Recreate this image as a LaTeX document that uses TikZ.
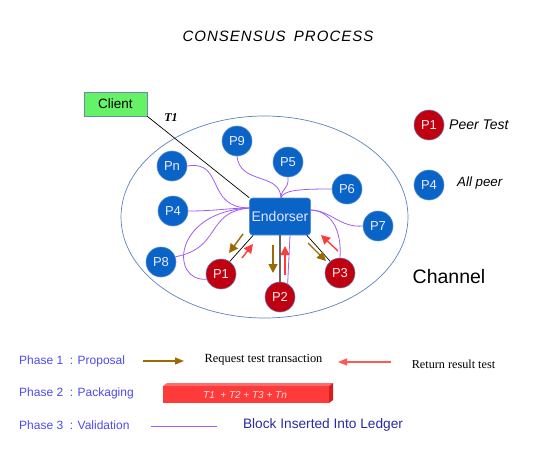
\documentclass[tikz,border=0pt]{standalone}
\usepackage{fontspec}
\setmainfont{Liberation Sans}
\newfontfamily\serifff{Liberation Serif}
\usetikzlibrary{arrows.meta,calc}
\definecolor{peerblue}{HTML}{0A64C8}
\definecolor{peerblueb}{HTML}{5A8FD0}
\definecolor{peerred}{HTML}{C00010}
\definecolor{peerredb}{HTML}{6A7FB0}
\definecolor{clientg}{HTML}{66F266}
\definecolor{clientb}{HTML}{6A8AB0}
\definecolor{chanline}{HTML}{5B84B8}
\definecolor{linkp}{HTML}{A25CF5}
\definecolor{brownarr}{HTML}{9C6A00}
\definecolor{redarr}{HTML}{FF3B3B}
\definecolor{phasec}{HTML}{4B4BF0}
\definecolor{ledgerc}{HTML}{2A2AA0}
\definecolor{barfront}{HTML}{FF3A3A}
\definecolor{bartop}{HTML}{FF6A6A}
\definecolor{barside}{HTML}{D02020}
\tikzset{
  bpeer/.style={circle,fill=peerblue,draw=peerblueb,line width=0.6pt,minimum size=30pt,inner sep=0pt,text=white!92!blue,font=\fontsize{13}{13}\selectfont},
  rpeer/.style={circle,fill=peerred,draw=peerredb,line width=0.6pt,minimum size=30pt,inner sep=0pt,text=white!92!red,font=\fontsize{13}{13}\selectfont},
  plink/.style={draw=linkp,line width=0.8pt},
  brarrow/.style={draw=brownarr,line width=1.4pt,-{Triangle[length=9pt,width=9pt]}},
  rdarrow/.style={draw=redarr,line width=1.4pt,-{Triangle[length=9pt,width=9pt]}},
  phasetext/.style={anchor=west,text=phasec,font=\fontsize{12}{12}\selectfont},
}
\begin{document}
\begin{tikzpicture}[x=1pt,y=-1pt]
\useasboundingbox (0,0) rectangle (546,471);
% title
\node (title) at (278,36) {\fontsize{15}{15}\selectfont\itshape C\kern1pt O\kern1pt N\kern1pt S\kern1pt E\kern1pt N\kern1pt S\kern1pt U\kern1pt S\ \ P\kern1pt R\kern1pt O\kern1pt C\kern1pt E\kern1pt S\kern1pt S};
% channel ellipse
\draw[chanline,line width=0.7pt] (264.5,217) ellipse [x radius=143.5, y radius=101];
\node[font=\fontsize{19.5}{19.5}\selectfont] (chan) at (449,277) {Channel};
% client
\node[draw=clientb,fill=clientg,line width=0.7pt,minimum width=63pt,minimum height=24pt,inner sep=0pt,font=\fontsize{13.5}{13.5}\selectfont] (client) at (115.5,104) {Client};
\node[font=\serifff\bfseries\itshape\fontsize{12}{12}\selectfont] (t1) at (171,118) {T1};
% endorser
\node[rounded corners=3pt,fill=peerblue,draw=peerblueb,line width=0.6pt,minimum width=61pt,minimum height=37pt,inner sep=0pt,text=white!90!blue,font=\fontsize{14}{14}\selectfont] (E) at (280,216.5) {Endorser};
% peers
\node[bpeer] (P9) at (237,141) {P9};
\node[bpeer] (Pn) at (172,166) {Pn};
\node[bpeer] (P5) at (288,162) {P5};
\node[bpeer] (P6) at (347,189) {P6};
\node[bpeer] (P4) at (173,211) {P4};
\node[bpeer] (P7) at (378,226) {P7};
\node[bpeer] (P8) at (161,262) {P8};
\node[rpeer] (P1) at (221,274) {P1};
\node[rpeer] (P2) at (280,297) {P2};
\node[rpeer] (P3) at (340,273) {P3};
% anchor coordinates on endorser
\coordinate (eL) at (249.5,208);
\coordinate (eT) at (281,198);
\coordinate (eR) at (310.5,210);
% purple links
\draw[plink] (Pn.east) .. controls (225,160) and (205,208) .. (eL);
\draw[plink] (P4.east) .. controls (215,211) and (230,208) .. (eL);
\draw[plink] (P8.20) .. controls (222,248) and (205,212) .. (eL);
\draw[plink] (P1.200) .. controls (170,282) and (172,212) .. (eL);
\draw[plink] (P9.south) .. controls (240,185) and (280,172) .. (eT);
\draw[plink] (P5.south) .. controls (289,190) and (281,188) .. (eT);
\draw[plink] (P6.west) .. controls (300,189) and (283,190) .. (eT);
\draw[plink] (P7.west) .. controls (340,228) and (330,210) .. (eR);
\draw[plink] (P3.north) .. controls (342,228) and (330,211) .. (eR);
\draw[plink] (P2.60) -- (E.-62);
% black links
\draw[black,line width=0.7pt] (client.south east) -- (E.north west);
\draw[black,line width=0.7pt] (P1.55) -- (E.-145);
\draw[black!60,line width=1.6pt] (P2.north) -- (E.south);
\draw[black,line width=0.7pt] (P3.130) -- (E.-35);
% arrows
\coordinate (a1s) at (243,234); \coordinate (a1e) at (229,253);
\coordinate (r1s) at (242,258); \coordinate (r1e) at (253,244);
\coordinate (a2s) at (273,245); \coordinate (a2e) at (273,273);
\coordinate (r2s) at (285,275); \coordinate (r2e) at (285,246);
\coordinate (a3s) at (308,243); \coordinate (a3e) at (326,261);
\coordinate (r3s) at (338,251); \coordinate (r3e) at (321,235);
\draw[brarrow] (a1s) -- (a1e);
\draw[rdarrow] (r1s) -- (r1e);
\draw[brarrow] (a2s) -- (a2e);
\draw[rdarrow] (r2s) -- (r2e);
\draw[brarrow] (a3s) -- (a3e);
\draw[rdarrow] (r3s) -- (r3e);
% legend peers
\node[rpeer] (L1) at (429,125) {P1};
\node[anchor=west,inner sep=0pt,font=\itshape\fontsize{14}{14}\selectfont] (L1t) at (449,125) {Peer Test};
\node[bpeer] (L4) at (429,185) {P4};
\node[anchor=west,inner sep=0pt,font=\itshape\fontsize{13.3}{13.3}\selectfont] (L4t) at (457,183) {All peer};
% phases
\node[phasetext,inner sep=0pt] (ph1) at (19,361) {Phase 1\ \ : Proposal};
\node[phasetext,inner sep=0pt] (ph2) at (19,393) {Phase 2\ \ : Packaging};
\node[phasetext,inner sep=0pt] (ph3) at (19,425.5) {Phase 3\ \ : Validation};
\coordinate (b1s) at (143,361); \coordinate (b1e) at (184,361);
\draw[draw=brownarr,line width=1.2pt,-{Triangle[length=9pt,width=7pt]}] (b1s) -- (b1e);
\node[font=\serifff\fontsize{12.4}{12.4}\selectfont] (req) at (263.5,360) {Request test transaction};
\coordinate (c1s) at (391,362); \coordinate (c1e) at (338,362);
\draw[draw=redarr!85,line width=1.2pt,-{Triangle[length=9pt,width=7pt]}] (c1s) -- (c1e);
\node[font=\serifff\fontsize{12.2}{12.2}\selectfont] (ret) at (453.5,364) {Return result test};
% bar
\fill[bartop] (163,386) -- (167,383) -- (333,383) -- (329,386) -- cycle;
\fill[barside] (329,386) -- (333,383) -- (333,400) -- (329,403) -- cycle;
\fill[barfront] (163,386) rectangle (329,403);
\node[text=white!88!red,font=\itshape\fontsize{10}{10}\selectfont] (bar) at (245,395) {T1\ \ + T2 + T3 + Tn};
\coordinate (v1s) at (151,426); \coordinate (v1e) at (217,426);
\draw[plink] (v1s) -- (v1e);
\node[text=ledgerc,font=\fontsize{13.7}{13.7}\selectfont] (led) at (323,425) {Block Inserted Into Ledger};
\end{tikzpicture}
\end{document}
